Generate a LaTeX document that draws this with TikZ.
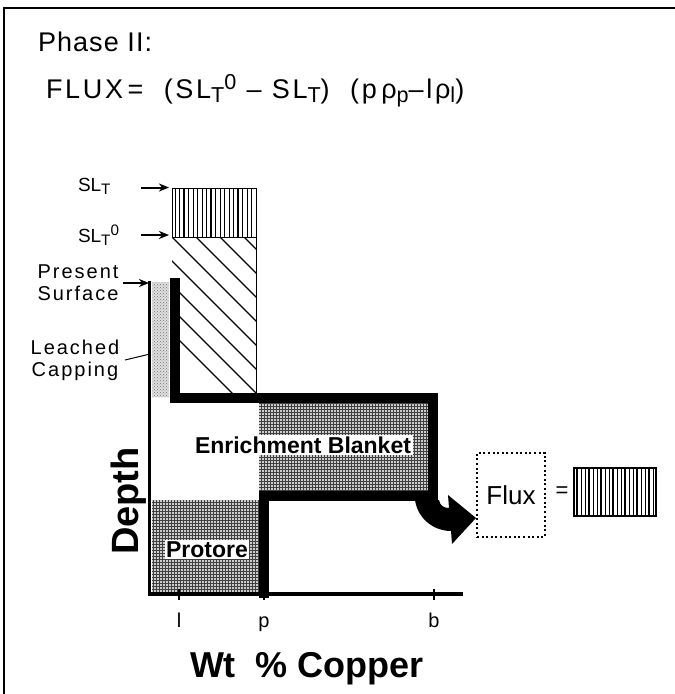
\documentclass[tikz,border=0pt]{standalone}
\usepackage{fontspec}
\setmainfont{Liberation Sans}
\newfontfamily\spacedsf[LetterSpace=10]{Liberation Sans}
\newfontfamily\headsf[LetterSpace=4]{Liberation Sans}
\newfontfamily\formsf[LetterSpace=10]{Liberation Sans}
\usetikzlibrary{arrows.meta,patterns}
\newcommand\lo[1]{\raisebox{-0.3ex}{\scalebox{0.8}{#1}}}
\newcommand\hi[1]{\raisebox{0.62ex}{\scalebox{0.8}{#1}}}
\newcommand\fs[1]{\fontsize{#1}{#1}\selectfont}
\begin{document}
\begin{tikzpicture}[x=1pt,y=-1pt,
  txt/.style={inner sep=0pt,outer sep=0pt},
  thin arrow/.style={line width=2pt,-{Stealth[length=10pt,width=8pt,inset=3pt]}},
  thickstep/.style={line width=10pt,line join=miter,line cap=rect},
  axisline/.style={line width=3.5pt},
  lightstip/.style={pattern=crosshatch dots,pattern color=black!55},
  darkmesh/.style={pattern=grid,pattern color=black!75}
]
\useasboundingbox (0,0) rectangle (675,694);
% frame
\draw[line width=2pt] (3,7.5) -- (675,7.5);
\draw[line width=1.5pt] (4,7) -- (4,694);

% headings
\node[txt,anchor=base west,font=\headsf\fs{27}] (phase) at (38,51) {Phase II:};
\node[txt,anchor=base west,font=\formsf\fs{27}] (formula) at (46,98)
  {FLUX\,=\ \ (SL\lo{T}\hi{0} \textendash{} SL\lo{T})\ \ (p\,ρ\lo{p}\textendash{}lρ\lo{l})};

% SL_T box (vertical hatch)
\foreach \xx [count=\i] in {175,179.5,184,188.5,193,197.5,202,206.5,211,215.5,220,224.5,229,233.5,238,242.5,247,251.5}{
  \pgfmathsetmacro\lw{mod(\i,3)==0 ? 1.6 : 0.9}
  \draw[line width=\lw pt] (\xx,188) -- (\xx,237);
}
\draw[line width=1pt] (172,188) rectangle (256,237);
% diagonal box
\begin{scope}
  \clip (172,237) rectangle (256,396);
  \foreach \k in {76,100,...,260}{
    \draw[line width=1.2pt] (\k,237) -- ++(170,170);
  }
\end{scope}
\draw[line width=1pt] (256,237) -- (256,396);

% stipple regions
\fill[gray!25] (152,282) rectangle (169,397);
\fill[lightstip] (152,282) rectangle (169,397);
\fill[gray!40] (259,403) rectangle (428,491);
\fill[darkmesh] (259,403) rectangle (428,491);
\fill[gray!40] (152,500) rectangle (259,592);
\fill[darkmesh] (152,500) rectangle (259,592);

% SL labels and arrows
\node[txt,anchor=base west,font=\fs{19}] (slt) at (78,191) {SL\lo{T}};
\node[txt,anchor=base west,font=\fs{19}] (slt0) at (78,242) {SL\lo{T}\hi{0}};
\coordinate (sltA) at (141,187.5);
\coordinate (sltB) at (169,187.5);
\coordinate (slt0A) at (141,235);
\coordinate (slt0B) at (169,235);
\draw[thin arrow] (sltA) -- (sltB);
\draw[thin arrow] (slt0A) -- (slt0B);

% side labels
\node[txt,align=center,font=\spacedsf\fs{20}] (present) at (78,283) {Present\\[2pt]Surface};
\node[txt,align=center,font=\spacedsf\fs{20}] (leached) at (75,360) {Leached\\[2pt]Capping};
\coordinate (presA) at (123,283);
\coordinate (presB) at (149,283);
\draw[thin arrow] (presA) -- (presB);
\coordinate (leachA) at (125,360);
\coordinate (leachB) at (150,354);
\draw[line width=1pt] (leachA) -- (leachB);

% axes
\coordinate (yTop) at (149.5,281);
\coordinate (origin) at (149.5,594);
\coordinate (xEnd) at (463,594);
\draw[axisline] (yTop) -- (origin);
\draw[axisline] ([xshift=-1.75pt]origin) -- (xEnd);
\foreach \xx/\nm in {179/l,264/p,434/b}{
  \draw[line width=1.5pt] (\xx,589) -- (\xx,600);
  \node[txt,anchor=base,font=\fs{20}] (lab\nm) at (\xx,627) {\nm};
}

% thick step profile
\draw[thickstep] (174.5,283) -- (174.5,398) -- (433,398) -- (433,496) -- (264,496) -- (264,593);

% region labels
\node[fill=white,inner sep=1.5pt,anchor=base,font=\bfseries\fs{23}] (blanket) at (303,453) {Enrichment Blanket};
\node[fill=white,inner sep=1.5pt,anchor=base,font=\bfseries\fs{23}] (protore) at (207,557) {Protore};
\node[txt,rotate=90,anchor=base,font=\bfseries\fs{38}] (depth) at (138,501) {Depth};
\node[txt,anchor=base,font=\bfseries\fs{36}] (xlab) at (307,677) {Wt\ \ \% Copper};

% curved arrow to flux box
\fill[black] (415,500) .. controls (418,520) and (435,531) .. (451,531)
  -- (452,544) -- (476,518) -- (448,495) -- (449,508)
  .. controls (443,508) and (440,505) .. (439,500) -- cycle;

% flux box
\node[draw,line width=2pt,dash pattern=on 2pt off 2.6pt,minimum width=68pt,minimum height=84pt,
  font=\fs{26},inner sep=0pt] (flux) at (511,495) {Flux};
\node[txt,font=\fs{22}] (eq) at (562,492) {=};
\foreach \xx [count=\i] in {577,581,585,589,593,597,601,605,609,613,617,621,625,629,633,637,641,645,649,653}{
  \pgfmathsetmacro\lw{mod(\i,3)==1 ? 1.6 : 0.9}
  \draw[line width=\lw pt] (\xx,468) -- (\xx,516);
}
\draw[line width=1.2pt] (574,468) rectangle (656,516);
\end{tikzpicture}
\end{document}
